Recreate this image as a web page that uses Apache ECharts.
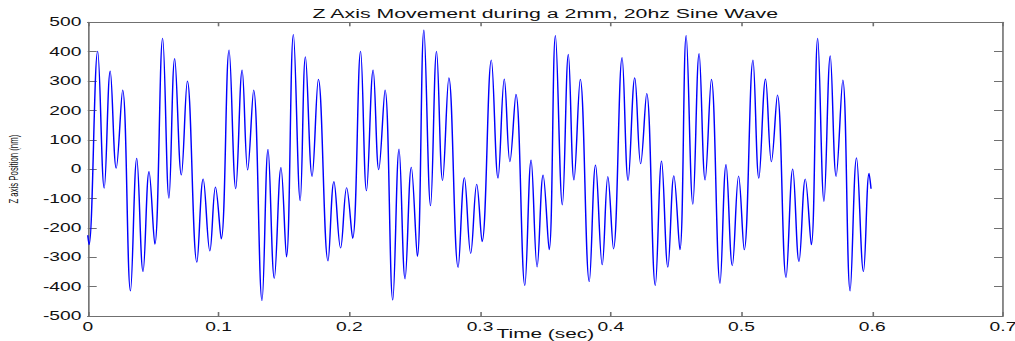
<!DOCTYPE html>
<html><head><meta charset="utf-8">
<script src="https://cdn.jsdelivr.net/npm/echarts@6/dist/echarts.min.js"></script>
<style>
html,body{margin:0;padding:0;background:#fff;overflow:hidden;}
#wrap{width:1015px;height:341px;overflow:hidden;position:relative;}
#chart{width:634px;height:341px;transform:scaleX(1.6009);transform-origin:0 0;}
</style></head><body>
<div id="wrap"><div id="chart"></div></div>
<script>
const titleText = 'Z Axis Movement during a 2mm, 20hz Sine Wave';
const xName = 'Time (sec)';
const yName = 'Z axis Position (nm)';
const xRange = [0, 0.7, 0.1];
const yRange = [-500, 500, 100];

// time (sec) of each turning point
const time = [0, 0.001, 0.0076, 0.0126, 0.0172, 0.0218, 0.0267, 0.0327, 0.0375, 0.0423, 0.0469, 0.0513, 0.0573, 0.0621, 0.0665, 0.0716, 0.0762, 0.0835, 0.0883, 0.0934, 0.0977, 0.1021,
  0.1081, 0.1132, 0.1181, 0.1223, 0.1269, 0.1333, 0.1379, 0.1427, 0.1478, 0.152, 0.1573, 0.1625, 0.1665, 0.1716, 0.1764, 0.1838, 0.1883, 0.1934, 0.198, 0.2026,
  0.2087, 0.2132, 0.2183, 0.2226, 0.2274, 0.2333, 0.2381, 0.2427, 0.2475, 0.2521, 0.2571, 0.2622, 0.2668, 0.2714, 0.2762, 0.2833, 0.2881, 0.2929, 0.2975, 0.3016,
  0.3087, 0.3138, 0.3186, 0.3229, 0.3275, 0.3343, 0.3391, 0.3437, 0.3483, 0.3529, 0.3577, 0.363, 0.3676, 0.3719, 0.3767, 0.3836, 0.3884, 0.3935, 0.3978,
  0.4021, 0.4087, 0.4133, 0.4184, 0.4229, 0.4275, 0.4341, 0.4389, 0.4437, 0.4483, 0.4529, 0.4577, 0.4628, 0.4676, 0.4722, 0.477, 0.4836, 0.4882, 0.493, 0.4978,
  0.5021, 0.5088, 0.5133, 0.5184, 0.5229, 0.5275, 0.5341, 0.5392, 0.544, 0.5488, 0.5534, 0.5583, 0.5631, 0.5679, 0.5724, 0.5775, 0.5831, 0.588, 0.5933, 0.5976, 0.5991];
// Z position (nm)
const zpos = [-225, -258, 402, -65, 334, 3, 270, -415, 37, -349, -8, -256, 446, -99, 377, -20, 300, -317, -33, -279, -61, -238,
  406, -67, 338, -3, 270, -448, 68, -372, 6, -299, 459, -108, 383, -25, 306, -313, -42, -269, -63, -236,
  402, -74, 338, -2, 270, -446, 69, -374, 7, -298, 474, -125, 402, -39, 311, -335, -29, -287, -51, -247,
  372, -31, 307, 25, 255, -396, 31, -333, -20, -275, 455, -122, 391, -37, 306, -383, 14, -326, -25,
  -272, 380, -39, 311, 18, 258, -396, 28, -334, -22, -275, 455, -120, 394, -37, 306, -389, 16, -329, -23,
  -275, 372, -31, 307, 25, 253, -369, 1, -315, -33, -258, 446, -110, 386, -25, 304, -415, 39, -349, -14, -67];

const data = time.map((t, i) => [t, zpos[i]]);
const FONT = 'Liberation Sans, Arial, sans-serif';
const lineCol = '#707070';

function xAx(pos, show) {
  return {
    type: 'value', position: pos, min: xRange[0], max: xRange[1], interval: xRange[2],
    axisLine: {show: true, onZero: false, lineStyle: {color: lineCol, width: 1}},
    axisTick: {show: true, inside: true, length: 4, lineStyle: {color: lineCol}},
    axisLabel: {show: show, color: '#111', fontSize: 12, fontFamily: FONT, margin: 5},
    splitLine: {show: false},
    name: show ? xName : '', nameLocation: 'middle', nameGap: 11, nameMoveOverlap: false,
    nameTextStyle: {color: '#111', fontSize: 13, fontFamily: FONT, verticalAlign: 'top'}
  };
}
function yAx(pos, show) {
  return {
    type: 'value', position: pos, min: yRange[0], max: yRange[1], interval: yRange[2],
    axisLine: {show: true, onZero: false, lineStyle: {color: lineCol, width: 1}},
    axisTick: {show: true, inside: true, length: 5.6, lineStyle: {color: lineCol}},
    axisLabel: {show: show, color: '#111', fontSize: 12, fontFamily: FONT, margin: 4},
    splitLine: {show: false},
    name: show ? yName : '', nameLocation: 'middle', nameGap: 42, nameRotate: 90, nameMoveOverlap: false,
    nameTextStyle: {color: '#111', fontSize: 7.8, fontFamily: FONT}
  };
}

const chart = echarts.init(document.getElementById('chart'), null, {renderer: 'svg'});
chart.setOption({
  animation: false,
  backgroundColor: '#fff',
  title: {
    text: titleText, left: 340.6, textAlign: 'center', top: 7, padding: 0,
    textStyle: {fontSize: 13.3, fontWeight: 'normal', color: '#111', fontFamily: FONT}
  },
  grid: {left: 54.8, right: 7.5, top: 22.3, bottom: 25, containLabel: false, outerBoundsMode: 'none'},
  xAxis: [xAx('bottom', true), xAx('top', false)],
  yAxis: [yAx('left', true), yAx('right', false)],
  series: [{
    type: 'line', data: data, xAxisIndex: 0, yAxisIndex: 0,
    showSymbol: false, smooth: 0.4,
    lineStyle: {color: '#0000ff', width: 0.9}
  }]
});
</script>
</body></html>
